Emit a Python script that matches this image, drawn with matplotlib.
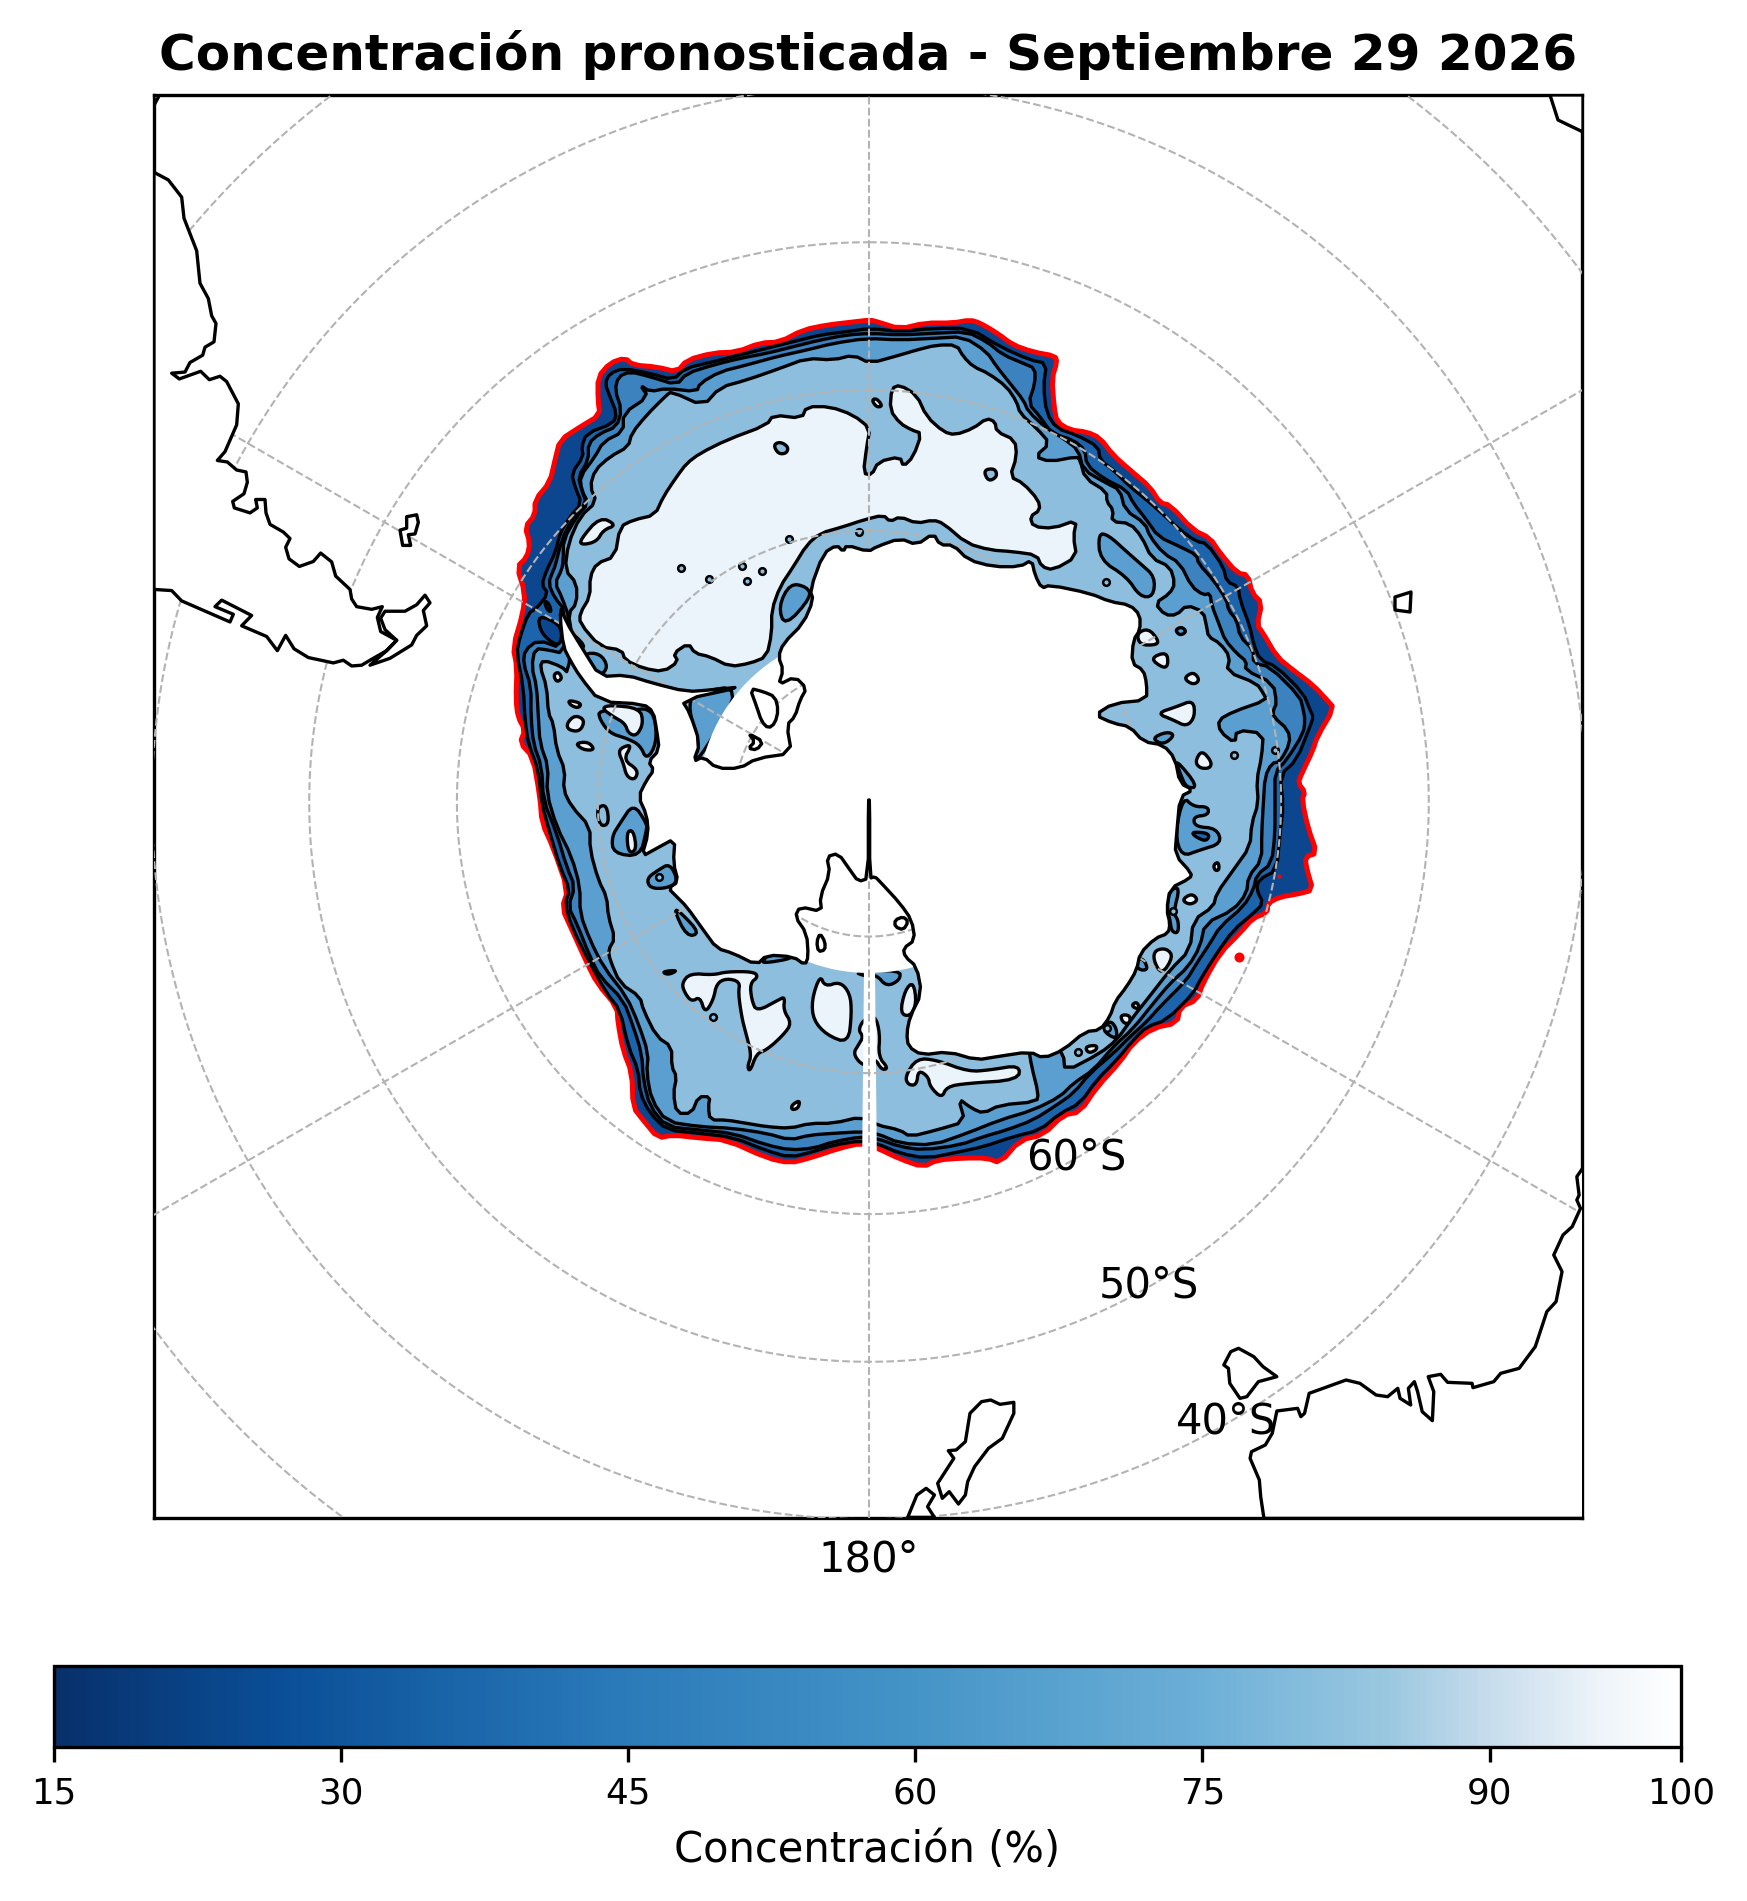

import numpy as np
import matplotlib
matplotlib.use("Agg")
import matplotlib.pyplot as plt
from matplotlib import cm, colors
from matplotlib.patches import Circle

# tile() brings a stretch digitised on an enlarged crop back to map units.
def tile(x0, y0, pts, sx=3.0, sy=3.0):
    return [(x0 + u / sx, y0 + v / sy) for u, v in pts]


# ── ice edge and concentration rings ─────────────────────────────────────────
ICE_EDGE = [
    (870,320),(878,322),(900,329),(925,323),(953,323),(970,320),(980,323),(997,333),(1013,345),
    (1033,352),(1055,356),(1057,362),(1052,378),(1054,407),(1057,422),(1070,430),(1087,432),(1100,438),
    (1113,455),(1130,470),(1150,487),(1160,503),(1170,505),(1193,530),(1210,538),(1220,553),(1237,573),
    (1248,575),(1252,593),(1262,603),(1257,625),(1263,633),(1277,657),(1293,670),(1313,685),(1327,700),
    (1334,708),(1317,737),(1313,750),(1302,773),(1298,783),(1305,792),(1302,800),(1308,828),(1317,853),
    (1305,857),(1307,870),(1313,890),(1298,894),(1280,897),(1268,903),(1267,913),(1253,918),(1240,933),
    (1220,953),(1203,983),(1197,1000),(1180,1007),(1177,1023),(1153,1028),(1133,1043),(1120,1062),
    (1097,1087),(1080,1112),(1063,1115),(1043,1135),(1020,1140),(1000,1163),(987,1158),(963,1158),
    (937,1160),(923,1167),(900,1159),(877,1148),(862,1143),(840,1148),(810,1158),(790,1163),(767,1158),
    (727,1140),(700,1138),(673,1135),(658,1138),(643,1120),(633,1107),(632,1073),(623,1050),(618,1023),
    (617,1007),(597,983),(587,963),(572,930),(562,908),(568,890),(553,847),(542,823),(540,797),(533,757),
    (520,743),(525,730),(518,717),(516,700),(517,667),(513,647),(523,613),(525,593),(517,567),(527,557),
    (530,543),(525,527),(535,515),(535,500),(550,482),(555,460),(560,440),(580,427),(600,415),(598,400),
    (598,377),(610,363),(625,358),(633,365),(657,367),(677,372),(687,360),(713,353),(737,352),(760,343),
    (780,342),(803,330),(827,325),(853,322),
]

RING_30 = (
    tile(900, 300, [(0,95),(100,85),(210,85),(300,140),(390,180),(440,190),(430,260),(440,340),(470,385),(530,405)])
    + tile(1070, 440, [(85,20),(90,60),(130,90),(180,140),(230,180),(265,210),(330,270),(380,305),(410,310),(460,380),
                       (470,425),(505,440),(510,480),(540,560),(550,610),(570,660),(620,680),(700,760),(720,810)])
    + tile(900, 700, [(1240,50),(1230,80),(1190,180),(1140,225),(1150,320),(1140,400),(1130,510),
                      (1075,540),(1070,570),(1090,610),(1060,640),(1000,690),(950,760),(900,840),(880,880),
                      (800,960),(740,980),(700,1020),(650,1080),(590,1140),(540,1210),(480,1240),(420,1290),
                      (340,1310),(250,1340),(180,1355),(80,1375),(0,1360)])
    + tile(500, 700, [(1130,1330),(1085,1322),(1000,1335),(940,1355),(870,1372),(800,1352),(700,1312),(600,1300),
                      (500,1290),(450,1240),(420,1180),(415,1110),(385,1040),(360,930),(320,880),(270,790),
                      (215,680),(195,610),(210,570),(180,500),(150,400),(125,310),(115,210),(85,130)])
    + tile(505, 570, [(60,450),(55,350),(35,250),(45,200),(70,130),(95,115),(130,70),(110,45),(125,0)])
    + tile(500, 300, [(165,760),(180,700),(210,650),(245,610),(225,560),(215,520),(250,470),(245,440),(260,400),
                      (340,370),(350,340),(330,290),(315,250),(330,220),(370,205),(450,220),(520,240),(555,205),
                      (640,185),(720,165),(800,145),(880,125),(960,105),(1040,95),(1110,85)])
)

RING_45 = (
    tile(900, 300, [(0,105),(100,100),(200,95),(260,125),(310,165),(370,190),(405,205),(405,250),(385,310),(420,350),
                    (455,400),(520,420)])
    + tile(1070, 440, [(45,30),(50,75),(100,115),(170,150),(190,190),(230,240),(265,290),(330,320),(380,345),(385,370),
                       (430,420),(470,480),(475,510),(500,540),(510,590),(550,630),(550,670),(600,680),(690,770),(700,810)])
    + tile(900, 700, [(1215,60),(1210,100),(1160,180),(1125,215),(1125,300),(1125,400),(1115,490),(1070,525),
                      (1060,570),(1030,620),(960,680),(930,730),(890,790),(860,840),(780,920),(740,965),(690,1010),
                      (640,1060),(570,1120),(520,1180),(470,1215),(400,1260),(320,1290),(250,1310),(180,1335),
                      (70,1350),(0,1340)])
    + tile(500, 700, [(1130,1315),(1085,1310),(1000,1325),(940,1345),(870,1350),(800,1335),(700,1300),(600,1290),
                      (500,1280),(450,1220),(430,1140),(425,1060),(400,980),(370,900),(300,830),(270,770),(230,670),
                      (205,620),(225,560),(200,500),(170,400),(130,300),(125,200),(100,130)])
    + tile(505, 570, [(78,440),(78,350),(55,280),(60,240),(100,210),(170,235),(180,120),(150,85),(130,40),(145,0)])
    + tile(500, 300, [(165,800),(185,720),
                      (215,660),(260,610),(245,570),(235,530),(265,480),(265,430),(300,400),(350,380),(365,330),
                      (345,270),(355,230),(390,215),(450,230),(530,255),(560,220),(640,195),(720,175),(800,160),
                      (880,140),(960,120),(1040,105),(1110,100)])
)

RING_60 = (
    tile(900, 300, [(0,120),(100,115),(190,110),(260,155),(290,200),(330,250),(370,300),(385,335),(440,385),(490,415)])
    + tile(1070, 440, [(25,30),(40,90),(110,130),(150,150),(165,210),(225,250),(240,290),(280,340),(330,370),(365,440),
                       (400,465),(420,460),(425,495),(450,560),(465,600),(500,640),(530,665),(525,690),(610,730),(620,790),(610,810)])
    + tile(900, 700, [(1120,50),(1165,90),(1170,130),(1140,185),(1115,190),(1095,230),(1090,310),(1085,400),
                      (1085,480),(1045,530),(1040,580),(1000,630),(915,670),(900,740),(865,800),(810,850),(760,910),
                      (700,985),(640,1040),(580,1110),(520,1150),(480,1190),(400,1230),(300,1260),(200,1300),
                      (100,1335),(0,1330)])
    + tile(500, 700, [(1130,1300),(1085,1295),(1000,1300),(930,1305),(870,1320),(800,1300),(700,1285),(600,1280),
                      (500,1265),(455,1200),(440,1120),(445,1060),(415,970),(380,890),(310,800),(270,720),(240,640),
                      (240,560),(215,470),(170,380),(140,280),(145,200),(120,130)])
    + tile(505, 570, [(100,440),(95,350),(80,290),(90,235),(130,240),(175,250),(195,150),(170,80),(150,40),(170,0)])
    + tile(500, 300, [(190,780),(190,720),
                      (230,650),(265,610),(245,570),(240,530),(285,470),(310,425),(370,395),(370,340),(445,290),
                      (420,255),(450,275),(500,265),(590,275),(600,250),(660,215),(740,195),(830,170),(920,150),
                      (1000,130),(1100,115)])
)

RING_75 = (
    tile(900, 300, [(0,165),(50,150),(110,135),(170,135),(190,170),(220,200),(265,220),(320,260),(350,305),(360,340),
                    (410,385),(450,430),(405,470),(450,485),(530,470)])
    + tile(1070, 440, [(30,60),(45,115),(110,155),(110,185),(130,210),(125,245),(180,250),(215,290),(245,355),(300,380),
                       (315,430),(300,460),(255,490),(285,525),(320,525),(350,495),(400,515),(410,560),(415,590),(450,610),
                       (480,650),(470,695),(560,730),(580,760)])
    + tile(900, 700, [(1100,0),(1000,35),(955,60),(960,95),(1005,130),(1010,90),(1090,100),(1085,170),(1070,240),
                      (1075,310),(1055,370),(1050,440),(1000,510),(950,580),(940,620),(880,660),(870,750),(810,810),
                      (740,900),(700,950),(650,1020),(600,1060),(495,1115),(490,1060),(440,1000),(385,1040),(395,1100),
                      (415,1180),(410,1205),(300,1215),(250,1240),(215,1225),(175,1195),(195,1265),(110,1290),(30,1310),
                      (0,1290)])
    + tile(500, 700, [(1130,1275),(1085,1250),(1000,1270),(930,1270),(870,1285),(800,1280),(740,1270),(680,1260),
                      (630,1260),(625,1220),(630,1190),(595,1190),(575,1240),(530,1240),(520,1180),(530,1130),(515,1100),
                      (515,1040),(470,1010),(430,930),(420,890),(360,850),(330,780),(325,750),(345,715),(325,650),
                      (320,590),(295,540),(270,450),(270,380),(215,320),(190,270),(195,210),(170,150),(160,70)])
    + tile(505, 570, [(130,430),(125,350),(105,290),(115,270),(170,290),(190,310),(200,190),(190,130),(215,100),(215,40),(180,0)])
    + tile(500, 300, [(205,730),
                      (240,650),(290,605),(270,560),(285,510),(330,470),(385,440),(395,400),(440,345),(500,285),(515,275),
                      (610,318),(660,262),(740,240),(840,205),(920,175),(1000,180),(1060,165),(1110,190)])
)

WEDDELL_90 = (
    tile(500, 300, [(360,680),(400,660),(465,645),(490,590),(530,530),(560,490),(600,460),(680,420),(800,375),(820,345),
                    (905,355),(920,320),(990,320),(1060,345),(1110,385),(1100,440),(1090,520),(1115,525),(1135,485),(1200,470)])
    + tile(900, 300, [(10,500),(40,470),(65,400),(35,390),(0,370)])
    + tile(500, 300, [(1170,330),(1175,265),(1200,255)])
    + tile(900, 300, [(50,285),(80,350),(130,395),(165,405),(220,385),(260,355),(285,365),(290,395),(345,420),(350,470),
                      (330,530),(370,550),(415,600),(420,630),(390,650),(400,680),(460,685),(530,660),(520,710),(530,770),
                      (460,810),(425,800),(410,765),(340,755),(270,750),(200,730),(130,670),(100,660),(50,670),(0,650)])
    + tile(500, 300, [(1170,665),(1150,645),(1090,660),(1030,680),(960,700),(920,735),(880,800),(840,860),(815,930),
                      (815,1000),(800,1070),(750,1090),(690,1100),(630,1070),(585,1060),(565,1030),(520,1060),(535,1085),
                      (490,1115),(430,1105),(375,1080),(365,1050),(300,1040),(240,970),(240,940),(270,890),(270,830),
                      (290,790),(345,770)])
)

# patches in the 60-75 band
PATCHES_60 = [
    tile(900, 300, [(595,700),(625,705),(680,755),(720,790),(765,830),(760,890),(720,890),(680,830),(600,780)]),
    tile(900, 300, [(825,990),(845,980),(860,995),(840,1007)]),
    tile(900, 700, [(755,115),(800,95),(825,105),(790,135)]),
    tile(900, 700, [(825,175),(895,260),(860,265),(840,220)]),
    tile(900, 700, [(850,290),(880,320),(925,320),(925,345),(880,350),(885,380),(950,385),(965,430),(900,450),(845,470),(825,400)]),
    tile(900, 700, [(605,990),(630,960),(650,985),(650,1020)]),
    tile(900, 700, [(705,780),(730,775),(745,810),(715,810)]),
    tile(900, 700, [(810,570),(840,560),(820,640),(835,660),(835,700),(815,695),(810,660),(800,620)]),
    tile(500, 700, [(295,30),(300,60),(330,100),(380,115),(420,135),(440,180),(470,130),(465,50),(440,25),(400,30)]),
    tile(500, 700, [(360,370),(400,310),(440,370),(440,390),(420,470),(340,460),(335,410)]),
    tile(500, 700, [(440,535),(475,510),(510,490),(535,545),(500,565),(450,565)]),
    tile(500, 700, [(545,640),(600,700),(560,710),(520,625)]),
    tile(500, 700, [(790,780),(810,760),(875,755),(880,775),(790,790)]),
    tile(500, 700, [(1060,815),(1100,830),(1130,825),(1160,860),(1200,840),(1200,810)]),
    tile(500, 300, [(835,920),(870,850),(920,860),(935,890),(855,980)]),
    tile(500, 300, [(250,1060),(300,1060),(325,1100),(300,1130),(265,1110)]),
    tile(500, 300, [(580,1178),(730,1155),(610,1360),(580,1385),(600,1330),(565,1230)]),
    tile(505, 570, [(185,175),(245,230),(215,240),(190,215)]),
]
PATCHES_DARK = [
    tile(505, 570, [(100,135),(160,160),(172,195),(162,228),(130,210),(105,180)]),
]
PATCHES_45 = [
    tile(900, 700, [(875,395),(930,400),(920,425),(885,410)]),
    tile(505, 570, [(118,92),(132,100),(140,128),(125,118)]),
]
PATCHES_90 = [
    tile(500, 300, [(240,720),(300,650),(350,675),(310,690),(290,725),(245,735)]),
    tile(505, 570, [(145,315),(160,305),(172,325),(155,337)]),
    tile(500, 700, [(545,850),(570,820),(640,825),(680,815),(760,815),(775,830),(750,850),(755,900),(770,935),(835,900),
                    (855,890),(850,930),(875,970),(850,1005),(800,1050),(770,1060),(750,1115),(742,1100),(755,1065),
                    (735,990),(725,950),(715,880),(720,845),(680,835),(650,850),(640,900),(615,940),(600,890),(575,905),(555,880)]),
    tile(500, 700, [(960,825),(975,860),(1020,845),(1050,880),(1055,940),(1045,1030),(980,1005),(940,960),(935,900)]),
    tile(500, 700, [(1075,990),(1090,960),(1125,945),(1140,1000),(1135,1070),(1165,1105),(1145,1110),(1125,1075),
                    (1110,1100),(1080,1090),(1060,1060),(1075,1035),(1090,1010)]),
    tile(900, 700, [(15,870),(40,845),(50,910),(30,950),(0,940)]),
    tile(500, 700, [(200,70),(225,45),(255,60),(240,95),(205,90)]),
    tile(500, 700, [(225,130),(265,125),(285,150),(250,150)]),
    tile(500, 700, [(370,140),(395,135),(370,180),(415,210),(405,240),(380,230),(370,190),(355,155)]),
    tile(500, 700, [(485,815),(535,810),(505,825)]),
    tile(500, 700, [(875,1215),(900,1200),(895,1225),(875,1230)]),
    tile(500, 700, [(205,0),(245,10),(235,25),(210,15)]),
    tile(500, 700, [(305,25),(330,15),(420,25),(430,70),(410,108),(385,100),(375,70),(340,50)]),
    tile(500, 700, [(380,395),(400,390),(410,450),(385,460)]),
    tile(900, 700, [(15,1130),(50,1075),(110,1080),(205,1115),(270,1110),(360,1095),(355,1140),(200,1150),(140,1160),
                    (125,1195),(90,1160),(85,1130),(55,1110),(50,1155),(25,1155)]),
    tile(900, 700, [(885,185),(905,150),(935,185),(930,205),(900,205)]),
    tile(900, 700, [(765,750),(800,745),(820,770),(785,825),(760,780)]),
    tile(900, 700, [(845,600),(875,580),(895,600),(870,615)]),
    tile(900, 700, [(940,495),(955,485),(958,510),(945,512)]),
    tile(900, 700, [(660,945),(690,945),(690,970),(670,970)]),
    tile(900, 700, [(695,915),(710,905),(720,925),(705,925)]),
    tile(900, 700, [(555,1040),(590,1035),(590,1050),(565,1060)]),
    tile(900, 700, [(770,40),(830,20),(880,0),(885,50),(860,80),(820,60)]),
    tile(900, 300, [(710,1000),(745,985),(775,1020),(770,1035),(720,1035)]),
    tile(900, 300, [(750,1075),(800,1055),(805,1095),(790,1105)]),
    tile(900, 300, [(850,1135),(880,1115),(900,1140),(880,1155)]),
    tile(500, 300, [(1115,300),(1130,295),(1148,318),(1130,322)]),
]
PATCHES_75 = [
    tile(500, 300, [(820,435),(840,425),(865,440),(860,460),(835,462)]),
    tile(900, 300, [(250,510),(285,505),(292,530),(265,545)]),
    tile(500, 700, [(295,320),(320,315),(327,370),(305,380),(292,350)]),
]
SPOTS = (
    tile(500, 300, [(543,805),(727,797),(785,812),(742,842),(628,838),(868,717),(1076,695)])
    + tile(500, 700, [(640,952),(478,532)])
    + tile(900, 700, [(622,985),(820,632),(1003,165),(535,1055),(1125,150)])
    + tile(900, 300, [(618,845)])
)
RED_SPOTS = tile(900, 700, [(1018,770),(1137,527)])

# ── land ─────────────────────────────────────────────────────────────────────
ANTARCTICA = (
    tile(500, 300, [(970,760),(1010,735),(1030,755),(1040,735),(1105,755),(1130,740),(1200,715)])
    + tile(900, 300, [(50,735),(100,700),(120,735),(160,735),(205,780),(280,800),(360,800),(395,780),(405,825),(425,865),
                      (450,855),(570,880),(630,905),(690,915),(720,945),(720,990),(700,1020),(695,1090),(730,1110),(740,1150)])
    + tile(900, 700, [(740,0),(640,10),(585,45),(640,70),(690,80),(730,125),(790,135),(825,175),(840,250),(880,270),(840,290),
                      (830,400),(825,465),(875,520),(870,535),(810,565),(800,630),(810,670),(805,700),(765,715),(720,760),
                      (710,810),(680,860),(645,905),(630,950),(600,990),(555,995),(490,1050),(430,1075),(390,1055),(290,1070),
                      (230,1080),(145,1055),(65,1065),(25,1040),(20,1000),(30,950),(65,880),(50,800),(15,770),(10,745),(45,720),
                      (35,660),(0,610)])
    + tile(500, 700, [(1140,545),(1125,530),(1109,535),(1109,300),(1105,300),(1105,535),(1075,545),(1050,510),(1015,460),
                      (980,470),(990,520),(960,590),(965,635),(900,620),(885,650),(920,700),(925,770),(915,795),(880,770),
                      (800,765),(770,795),(700,760),(650,745),(610,690),(560,620),(530,590),(505,565),(535,545),(520,490),
                      (525,415),(470,445),(425,470),(445,400),(440,345),(415,290),(440,240),(462,210),(445,185),(478,150),
                      (470,90),(460,35),(430,12),(300,5)])
    + tile(500, 300, [(240,1130),(210,1080),(190,1040),(180,950),(185,920),(195,960),(250,1050),(300,1130),(380,1125),(460,1150),
                      (560,1175),(630,1170),(730,1160)])
    + tile(500, 700, [(545,0),(570,40),(600,130),(580,185),(610,170),(650,205),(720,205),(770,175),(875,160),(860,75),(885,50),(900,0)])
    + tile(500, 300, [(920,1165),(885,1130),(835,1155),(850,1110),(835,1070),(850,1030),(910,970),(940,900),(930,870)])
)
CAVITY_ISLANDS = [
    tile(500, 700, [(750,-35),(790,-25),(825,-10),(835,30),(825,70),(805,85),(785,65),(770,20)]),
    tile(500, 700, [(745,100),(790,125),(770,150),(745,145),(765,125)]),
    tile(500, 700, [(960,700),(975,725),(975,750),(955,755),(950,725)]),
    tile(900, 700, [(-15,660),(10,650),(25,665),(10,690),(-15,680)]),
]

WEST_LAND = tile(140, 90, [
    (42,215),(85,235),(125,280),(132,335),(170,420),(180,505),(205,545),(215,590),(228,610),(222,658),(195,672),(188,693),
    (150,712),(135,737),(95,740),(118,755),(182,735),(208,757),(240,748),(260,762),(295,820),(290,875),(255,945),(232,968),
    (262,972),(290,993),(318,998),(322,1025),(312,1055),(278,1075),(283,1092),(330,1105),(352,1092),(347,1070),(375,1070),
    (378,1105),(390,1135),(430,1155),(450,1172),(437,1195),(447,1225),(478,1245),(520,1232),(542,1210),(575,1233),(587,1270),
    (630,1305),(635,1330),(650,1350),(695,1357),(727,1350),(712,1378),(722,1415),(770,1438),(740,1465),(690,1503),(750,1485),
    (815,1450),(830,1425),(860,1400),(850,1360),(870,1340),(855,1320),(830,1345),(795,1362),(735,1362),(722,1380),(735,1410),
    (770,1438),(740,1465),(690,1490),(665,1503),(635,1505),(610,1490),(580,1497),(505,1483),(462,1460),(437,1425),(412,1465),
    (380,1428),(305,1400),(335,1373),(245,1333),(225,1350),(280,1370),(270,1390),(125,1335),(95,1308),(42,1305),
], sx=3.0, sy=2.613)
EAST_LAND = tile(880, 1120, [
    (1530,130),(1510,170),(1515,225),(1510,240),(1518,265),(1500,320),(1480,345),(1460,405),(1478,455),(1465,545),(1445,575),
    (1420,680),(1385,745),(1345,760),(1330,785),(1285,803),(1283,790),(1230,787),(1215,763),(1188,770),(1200,815),(1197,902),
    (1175,875),(1165,815),(1158,785),(1145,805),(1150,855),(1127,835),(1122,805),(1100,830),(1075,825),(1040,790),(1010,780),
    (970,800),(930,820),(920,880),(912,890),(905,865),(860,873),(850,940),(835,975),(805,995),(802,1015),(822,1080),(825,1130),
    (832,1195),(1530,1195),
], sx=2.167)
SMALL_LAND = [
    tile(880, 1120, [(745,735),(760,695),(777,685),(810,710),(830,740),(860,770),(820,785),(795,830),(780,835),(758,790),(755,745)], sx=2.167),
    tile(880, 1120, [(220,845),(240,840),(260,853),(290,847),(290,880),(265,955),(235,985),(205,1040),(190,1085),(185,1125),(170,1152),
                     (150,1115),(135,1135),(125,1090),(160,1015),(148,992),(165,990),(185,965),(195,880)], sx=2.167),
    tile(880, 1120, [(60,1192),(80,1125),(100,1105),(118,1125),(103,1160),(118,1192)], sx=2.167),
    tile(140, 90, [(780,1150),(800,1145),(800,1115),(830,1110),(835,1130),(825,1160),(805,1162),(812,1190),(788,1190)], sx=3.0, sy=2.613),
    tile(140, 90, [(42,40),(58,14),(42,14)], sx=3.0, sy=2.613),
    [(1550,95),(1558,120),(1583,132),(1583,95)],
    [(1395,597),(1411,592),(1410,612),(1395,610)],
]

LATS = [30, 40, 50, 60, 70, 80]
LONS = [0, 60, 120, 180, 240, 300]
LAT_LABELS = ["60°S", "50°S", "40°S"]
LABEL_POS = [(1076, 1158), (1149, 1286), (1226, 1422)]
CB_TICKS = [15, 30, 45, 60, 75, 90, 100]

BAND_COLORS = {15: "#0c468f", 30: "#1c65ad", 45: "#3b82bf", 60: "#5b9fd0", 75: "#8dbedd", 90: "#ebf3fb"}
CB_VALUES = [15, 27, 45, 60, 75, 85, 90, 96, 100]
CB_COLORS = ["#08306b", "#0a4f98", "#2b7bba", "#4594c7", "#6cafd7", "#9cc8e0", "#c6dcec", "#eef4f9", "#ffffff"]

POLE = (869, 802)
K = 1538.0   # stereographic scale, map units


def grid_xy(lat, lon):
    r = K * np.tan(np.radians(90 - np.asarray(lat)) / 2)
    th = np.radians(np.asarray(lon))
    return POLE[0] + r * np.sin(th), POLE[1] - r * np.cos(th)


# contours in the source are smooth, the digitised ones are not
def rounded(pts, passes=2):
    xy = np.array(pts, dtype=float)
    for _ in range(passes):
        nxt = np.roll(xy, -1, axis=0)
        xy = np.column_stack([0.75 * xy + 0.25 * nxt, 0.25 * xy + 0.75 * nxt]).reshape(-1, 2)
    return xy


def blob(ax, pts, fc, z, lw=0.8, ec="k", smooth=2):
    xy = rounded(pts, smooth) if smooth else np.array(pts, dtype=float)
    ax.fill(xy[:, 0], xy[:, 1], facecolor=fc, edgecolor=ec, linewidth=lw, joinstyle="round", zorder=z)


fig = plt.figure(figsize=(1747 / 300, 1901 / 300), dpi=300)
ax = fig.add_axes([154 / 1747, 1 - 1518 / 1901, 1428 / 1747, 1423 / 1901])
ax.set_xlim(154, 1582)
ax.set_ylim(1518, 95)
ax.set_xticks([])
ax.set_yticks([])

# ice bands, outermost first
blob(ax, ICE_EDGE, BAND_COLORS[15], 1, lw=1.2, ec="red", smooth=1)
blob(ax, RING_30, BAND_COLORS[30], 2, smooth=1)
blob(ax, RING_45, BAND_COLORS[45], 3, smooth=1)
blob(ax, RING_60, BAND_COLORS[60], 4, smooth=1)
blob(ax, RING_75, BAND_COLORS[75], 5, smooth=1)
for p in PATCHES_60:
    blob(ax, p, BAND_COLORS[60], 5.2)
for p in PATCHES_DARK:
    blob(ax, p, BAND_COLORS[15], 5.25)
for p in PATCHES_45:
    blob(ax, p, BAND_COLORS[30], 5.3)
blob(ax, WEDDELL_90, BAND_COLORS[90], 5.4, smooth=1)
for p in PATCHES_90:
    blob(ax, p, BAND_COLORS[90], 5.5)
for p in PATCHES_75:
    blob(ax, p, BAND_COLORS[75], 5.6)
sx, sy = zip(*SPOTS)
ax.plot(sx, sy, ls="none", marker="o", ms=1.6, mfc=BAND_COLORS[75], mec="k", mew=0.6, zorder=5.7)
rx, ry = zip(*RED_SPOTS)
ax.plot(rx[:1], ry[:1], ls="none", marker="o", ms=2.4, color="red", mew=0, zorder=5.7)
ax.plot(rx[1:], ry[1:], ls="none", marker="o", ms=1.0, color="red", mew=0, zorder=5.7)

# no data near the pole, nor along the seam at 180
ax.add_patch(Circle(POLE, 171, fc="white", ec="none", zorder=6))
ax.fill([864, 875, 877, 862], [970, 970, 1175, 1175], fc="white", ec="none", zorder=6)

# graticule
for lat in LATS:
    lon = np.linspace(0, 360, 361)
    gx, gy = grid_xy(np.full_like(lon, lat), lon)
    ax.plot(gx, gy, color="#b3b3b3", lw=0.5, ls=(0, (3.7, 1.6)), zorder=7)
for lon in LONS:
    lat = np.linspace(89, 10, 50)
    gx, gy = grid_xy(lat, np.full_like(lat, lon))
    ax.plot(gx, gy, color="#b3b3b3", lw=0.5, ls=(0, (3.7, 1.6)), zorder=7)

# land on top
blob(ax, ANTARCTICA, "white", 8, smooth=1)
for p in CAVITY_ISLANDS:
    blob(ax, p, "white", 8, smooth=1)
blob(ax, WEST_LAND, "white", 8, smooth=0)
blob(ax, EAST_LAND, "white", 8, smooth=0)
for p in SMALL_LAND:
    blob(ax, p, "white", 8, smooth=0)

for txt, (lx, ly) in zip(LAT_LABELS, LABEL_POS):
    ax.text(lx, ly, txt, fontsize=10, ha="center", va="center", zorder=9)
ax.text(869, 1560, "180°", fontsize=10, ha="center", va="center", clip_on=False)
ax.set_title("Concentración pronosticada - Septiembre 29 2026", fontsize=12, fontweight="bold", pad=6)

cax = fig.add_axes([54 / 1747, 1 - 1747 / 1901, 1627 / 1747, 81 / 1901])
cb_pos = [(v - CB_VALUES[0]) / (CB_VALUES[-1] - CB_VALUES[0]) for v in CB_VALUES]
cmap = colors.LinearSegmentedColormap.from_list("ice", list(zip(cb_pos, CB_COLORS)))
sm = cm.ScalarMappable(norm=colors.Normalize(15, 100), cmap=cmap)
cb = fig.colorbar(sm, cax=cax, orientation="horizontal", ticks=CB_TICKS)
cb.ax.tick_params(labelsize=8.6)
cb.set_label("Concentración (%)", fontsize=10, labelpad=4.5)

fig.savefig("out.png", dpi=300)
